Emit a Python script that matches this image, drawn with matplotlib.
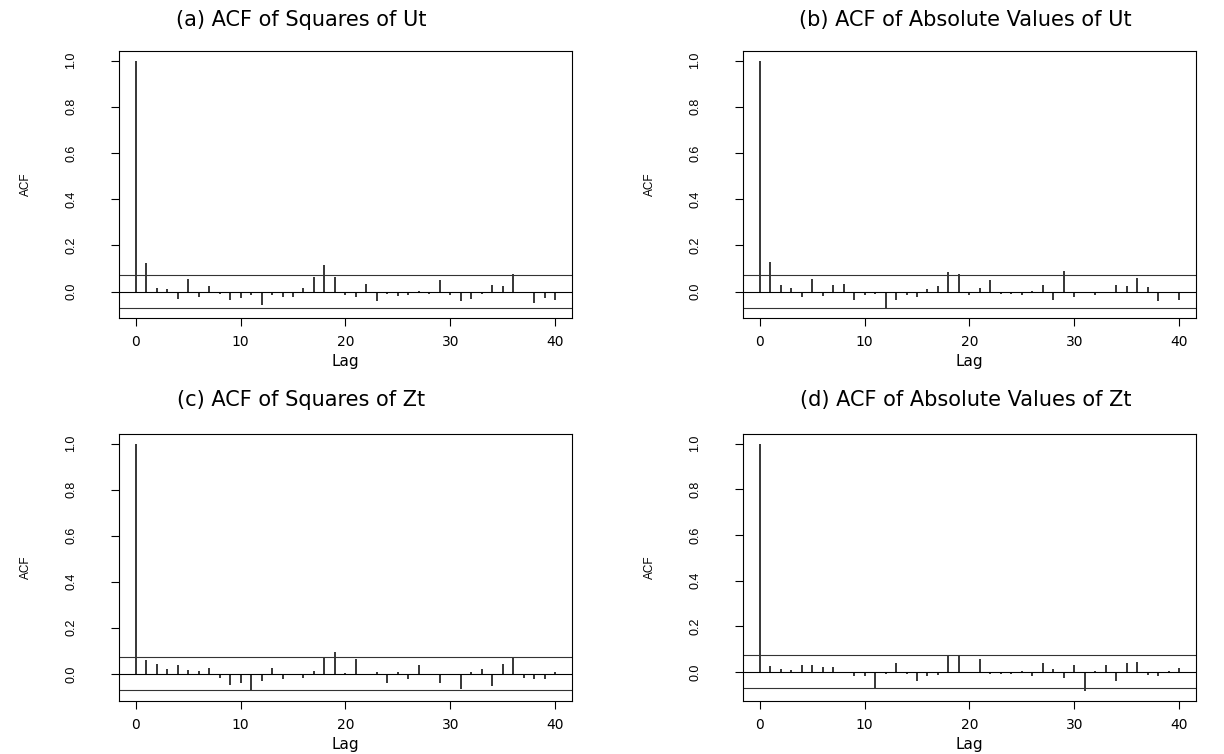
import matplotlib
matplotlib.use("Agg")
import matplotlib.pyplot as plt
import numpy as np

lags = list(range(41))

acf_sq_ut = [1.0, 0.123, 0.014, 0.010, -0.032, 0.054, -0.025, 0.022, -0.009, -0.036,
             -0.026, -0.016, -0.057, -0.013, -0.022, -0.022, 0.016, 0.061, 0.117, 0.065,
             -0.014, -0.022, 0.033, -0.039, -0.010, -0.019, -0.017, 0.003, -0.009, 0.051,
             -0.016, -0.039, -0.032, -0.009, 0.028, 0.022, 0.075, -0.004, -0.049, -0.026,
             -0.035]

acf_abs_ut = [1.0, 0.126, 0.029, 0.014, -0.025, 0.054, -0.019, 0.029, 0.032, -0.038,
              -0.017, -0.009, -0.071, -0.035, -0.016, -0.022, 0.009, 0.022, 0.084, 0.077,
              -0.016, 0.016, 0.048, -0.012, -0.012, -0.017, 0.003, 0.029, -0.036, 0.091,
              -0.025, -0.007, -0.013, -0.007, 0.029, 0.025, 0.059, 0.020, -0.039, -0.003,
              -0.036]

acf_sq_zt = [1.0, 0.058, 0.044, 0.019, 0.038, 0.016, 0.014, 0.026, -0.020, -0.049,
             -0.039, -0.075, -0.030, 0.025, -0.022, -0.004, -0.016, 0.013, 0.074, 0.096,
             0.004, 0.064, -0.003, 0.009, -0.038, 0.007, -0.023, 0.038, -0.003, -0.041,
             -0.002, -0.065, 0.007, 0.020, -0.052, 0.041, 0.072, -0.020, -0.023, -0.023,
             0.009]

acf_abs_zt = [1.0, 0.028, 0.014, 0.010, 0.032, 0.032, 0.020, 0.023, -0.006, -0.019,
              -0.019, -0.072, -0.007, 0.041, -0.009, -0.041, -0.020, -0.012, 0.075, 0.068,
              0.001, 0.058, -0.010, -0.007, -0.009, 0.006, -0.016, 0.041, 0.014, -0.028,
              0.032, -0.084, 0.006, 0.032, -0.041, 0.041, 0.043, -0.014, -0.019, 0.006,
              0.017]

titles = ["(a) ACF of Squares of Ut", "(b) ACF of Absolute Values of Ut",
          "(c) ACF of Squares of Zt", "(d) ACF of Absolute Values of Zt"]

conf_bound = 0.072

# Положение панелей (в долях фигуры)
lefts = [0.0972, 0.607, 0.0972, 0.607]
bottoms = [0.5782, 0.5782, 0.0703, 0.0703]
width, height = 0.370, 0.3545
title_x = [0.246, 0.789, 0.246, 0.789]
title_y = [0.973, 0.973, 0.469, 0.469]


def draw_acf(fig, idx, values):
    # Рисует одну панель ACF в стиле R
    ax = fig.add_axes([lefts[idx], bottoms[idx], width, height])
    ax.vlines(lags, 0, values, color="black", linewidth=1.1)
    ax.axhline(0, color="black", linewidth=0.8)
    ax.axhline(conf_bound, color="#333333", linewidth=0.8)
    ax.axhline(-conf_bound, color="#333333", linewidth=0.8)

    lo = min(min(values), -conf_bound)
    hi = 1.0
    pad = (hi - lo) * 0.04
    ax.set_ylim(lo - pad, hi + pad)
    ax.set_xlim(-1.6, 41.6)

    ax.set_xticks([0, 10, 20, 30, 40])
    ax.set_yticks([0.0, 0.2, 0.4, 0.6, 0.8, 1.0])
    ax.set_yticklabels(["0.0", "0.2", "0.4", "0.6", "0.8", "1.0"],
                       rotation=90, va="center", fontsize=9,
                       family="Liberation Sans")
    ax.tick_params(axis="x", labelsize=10, length=6, width=0.8, pad=6)
    ax.tick_params(axis="y", length=6, width=0.8, pad=24)

    for s in ax.spines.values():
        s.set_linewidth(0.8)

    ax.set_xlabel("Lag", fontsize=11)
    ax.xaxis.set_label_coords(0.5, -0.135)
    ax.set_ylabel("ACF", fontsize=8.5, family="Liberation Sans")
    ax.yaxis.set_label_coords(-0.192, 0.5)

    fig.text(title_x[idx], title_y[idx], titles[idx], fontsize=15,
             ha="center", va="center")
    return ax


def main():
    fig = plt.figure(figsize=(12.24, 7.54), dpi=100)
    all_acf = [acf_sq_ut, acf_abs_ut, acf_sq_zt, acf_abs_zt]
    for i, vals in enumerate(all_acf):
        draw_acf(fig, i, vals)
    fig.savefig("out.png", dpi=100)


if __name__ == "__main__":
    main()
